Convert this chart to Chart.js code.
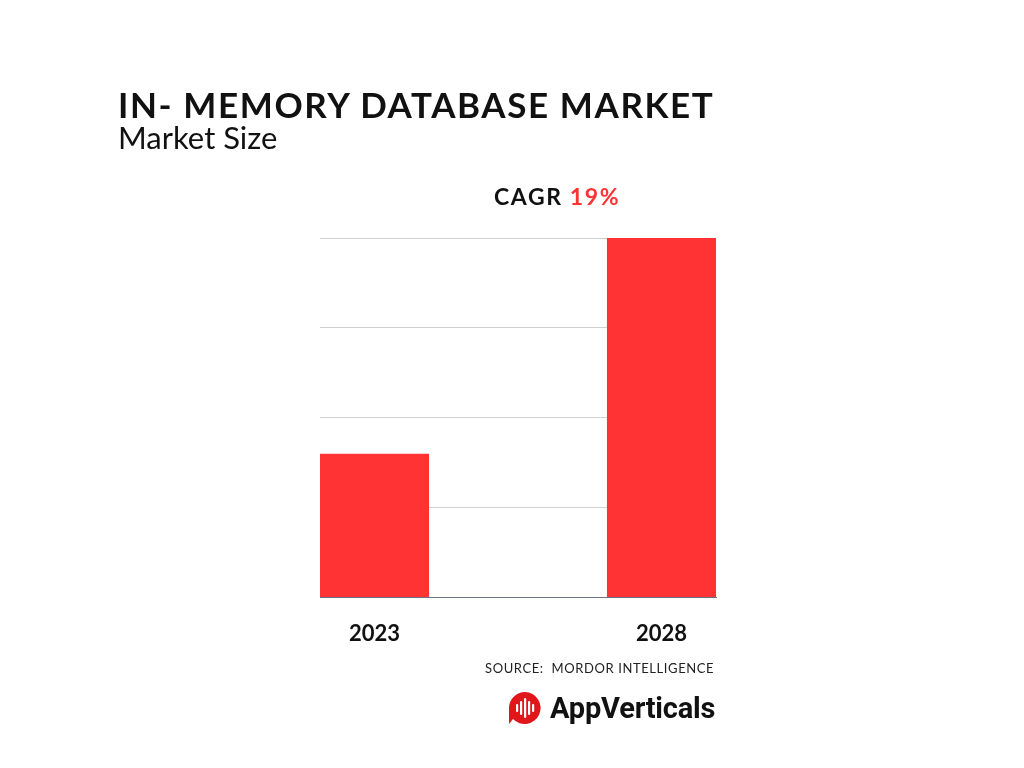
<!DOCTYPE html>
<html>
<head>
<meta charset="utf-8">
<script src="https://cdn.jsdelivr.net/npm/chart.js@4.4.0/dist/chart.umd.min.js"></script>
<style>
  html, body { margin: 0; padding: 0; background: #ffffff; }
  #wrap { position: relative; width: 1024px; height: 768px; overflow: hidden; font-family: Lato, "Noto Sans", sans-serif; }
  #chart { position: absolute; left: 0; top: 0; }
  .abs { position: absolute; white-space: nowrap; }
  #title { left: 118px; top: 82px; font-size: 35px; font-weight: 700; letter-spacing: 1.6px; color: #111; line-height: 44px; }
  #subtitle { left: 118px; top: 117px; font-size: 31px; font-weight: 400; color: #111; line-height: 40px; }
  #cagr { left: 494px; top: 181px; font-size: 23px; font-weight: 700; letter-spacing: 1.6px; color: #111; line-height: 30px; }
  #cagr span { color: #ff3333; }
  #source { left: 485px; top: 659px; font-size: 13px; letter-spacing: 0.6px; color: #222; line-height: 18px; }
  #logo { left: 508px; top: 690px; height: 36px; display: flex; align-items: center; }
  #logo .txt { font-family: Roboto, "Open Sans", sans-serif; font-weight: 700; font-size: 29px; color: #111; margin-left: 8px; letter-spacing: -0.2px; }
</style>
</head>
<body>
<div id="wrap">
  <canvas id="chart" width="1024" height="768"></canvas>
  <div class="abs" id="title">IN- MEMORY DATABASE MARKET</div>
  <div class="abs" id="subtitle">Market Size</div>
  <div class="abs" id="cagr">CAGR <span>19%</span></div>
  <div class="abs" id="source">SOURCE:&nbsp; MORDOR INTELLIGENCE</div>
  <div class="abs" id="logo">
    <svg width="34" height="34" viewBox="0 0 34 34">
      <path d="M17 1 A16 16 0 1 1 5 28 L1 33 L1 17 A16 16 0 0 1 17 1 Z" fill="#e0161b"/>
      <rect x="8" y="13" width="2.2" height="8" rx="1.1" fill="#fff"/>
      <rect x="12" y="10" width="2.2" height="14" rx="1.1" fill="#fff"/>
      <rect x="16" y="7" width="2.2" height="20" rx="1.1" fill="#fff"/>
      <rect x="20" y="10" width="2.2" height="14" rx="1.1" fill="#fff"/>
      <rect x="24" y="13" width="2.2" height="8" rx="1.1" fill="#fff"/>
    </svg>
    <span class="txt">AppVerticals</span>
  </div>
</div>
<script>
const categories = ['2023', '2028'];
const marketSize = [1.6, 4.0];
const yTicks = [0, 1, 2, 3, 4];

const ctx = document.getElementById('chart').getContext('2d');
new Chart(ctx, {
  type: 'bar',
  data: {
    datasets: [{
      data: categories.map((c, i) => ({ x: i, y: marketSize[i] })),
      backgroundColor: '#ff3333',
      borderWidth: 0,
      barPercentage: 0.38,
      categoryPercentage: 1
    }]
  },
  options: {
    responsive: false,
    animation: false,
    events: [],
    layout: { padding: { left: 320, right: 308, top: 238, bottom: 98 } },
    plugins: { legend: { display: false }, tooltip: { enabled: false }, title: { display: false } },
    scales: {
      x: {
        type: 'linear',
        offset: false,
        min: -0.19,
        max: categories.length - 1 + 0.19,
        afterBuildTicks: (scale) => { scale.ticks = categories.map((c, i) => ({ value: i })); },
        grid: { display: false, drawTicks: false },
        border: { display: true, color: '#6b7280', width: 1 },
        ticks: {
          padding: 23,
          autoSkip: false,
          maxRotation: 0,
          color: '#111',
          font: { family: 'Lato', size: 22, weight: '700' },
          callback: (v) => categories[v] ?? ''
        }
      },
      y: {
        min: yTicks[0],
        max: yTicks[yTicks.length - 1],
        afterBuildTicks: (scale) => { scale.ticks = yTicks.map(v => ({ value: v })); },
        ticks: { display: false },
        grid: { color: '#d0d0d0', drawTicks: false, lineWidth: 1 },
        border: { display: false }
      }
    }
  }
});
</script>
</body>
</html>
